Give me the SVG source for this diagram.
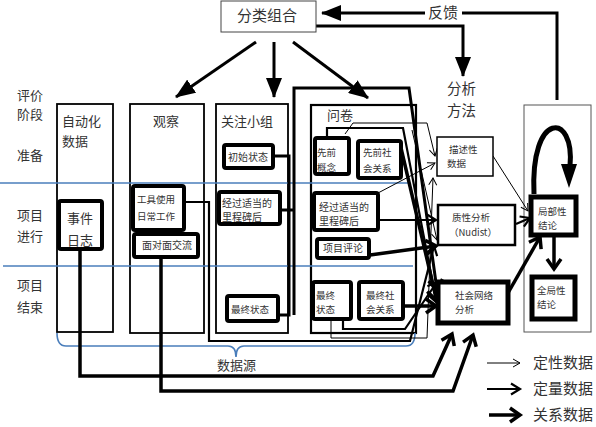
<svg xmlns="http://www.w3.org/2000/svg" width="596" height="427" viewBox="0 0 596 427">
<style>
text{font-family:"Noto Sans CJK SC","Liberation Sans",sans-serif;fill:#333}
.f15{font-size:15px}.f14{font-size:14.5px}.f13{font-size:13px}.f10{font-size:10px}.f9{font-size:9.5px}
.col{fill:#fff;stroke:#000;stroke-width:1.8}
.bx{fill:#fff;stroke:#000;stroke-width:4}
.thin{fill:none;stroke:#000;stroke-width:1}
.med{fill:none;stroke:#000;stroke-width:2.2}
.thk{fill:none;stroke:#000;stroke-width:3.5}
.big{fill:none;stroke:#000;stroke-width:3}
.blue{fill:none;stroke:#4a7ebb;stroke-width:1.6}
</style>
<defs>
<marker id="aThin" markerWidth="10" markerHeight="10" refX="9" refY="5" orient="auto" markerUnits="userSpaceOnUse"><path d="M2,1 L9,5 L2,9" fill="none" stroke="#000" stroke-width="1"/></marker>
<marker id="aMed" markerWidth="14" markerHeight="14" refX="11" refY="7" orient="auto" markerUnits="userSpaceOnUse"><path d="M2,1.5 L11,7 L2,12.5" fill="none" stroke="#000" stroke-width="2.2"/></marker>
<marker id="aThk" markerWidth="18" markerHeight="18" refX="13" refY="9" orient="auto" markerUnits="userSpaceOnUse"><path d="M3,2 L13,9 L3,16" fill="none" stroke="#000" stroke-width="3.5"/></marker>
<marker id="tri" markerWidth="20" markerHeight="16" refX="19" refY="8" orient="auto" markerUnits="userSpaceOnUse"><path d="M0,0 L20,8 L0,16 z" fill="#000"/></marker>
</defs>

<!-- stage labels -->
<g id="stages">
<text class="f13" x="17" y="100">评价</text>
<text class="f13" x="17" y="119">阶段</text>
<text class="f13" x="17" y="160">准备</text>
<text class="f13" x="17" y="220">项目</text>
<text class="f13" x="17" y="241">进行</text>
<text class="f13" x="17" y="290">项目</text>
<text class="f13" x="17" y="312">结束</text>
</g>

<!-- columns -->
<g id="col-auto"><rect class="col" x="57" y="104" width="56" height="228"/>
<text class="f13" x="62" y="126">自动化</text><text class="f13" x="62" y="146">数据</text></g>
<g id="col-obs"><rect class="col" x="130" y="104" width="74" height="229"/>
<text class="f13" x="153" y="126">观察</text></g>
<g id="col-focus"><rect class="col" x="216" y="104" width="72" height="229"/>
<text class="f13" x="221" y="126">关注小组</text></g>
<g id="col-survey"><rect x="311" y="105" width="105" height="228" fill="none" stroke="#000" stroke-width="2.2"/>
<text class="f13" x="327" y="120">问卷</text></g>
<g id="col-right"><rect x="524" y="105" width="67" height="227" fill="#fff" stroke="#555" stroke-width="1"/></g>

<!-- blue separators -->
<g id="separators">
<path class="blue" d="M0,183 H410"/>
<path class="blue" d="M3,266 H413"/>
<path class="blue" d="M57,333 Q57,346 66,346 H228 Q236,346 236,357 Q236,346 244,346 H406 Q415,346 415,333"/>
<text class="f13" x="217" y="370">数据源</text>
</g>

<!-- connectors -->
<g id="connectors">
<path class="big" d="M256,42 L176,97" marker-end="url(#tri)"/>
<path class="big" d="M274,42 V97" marker-end="url(#tri)"/>
<path class="big" d="M293,42 L368,98" marker-end="url(#tri)"/>
<path class="big" d="M316,26 H463 V76" marker-end="url(#tri)"/>
<path class="big" d="M557,100 V13 H462"/>
<path class="big" d="M425,13 H322" marker-end="url(#tri)"/>

<path class="med" d="M186,202 H209 V341 H410 L434,246" marker-end="url(#aMed)"/>
<path class="big" d="M273,156 H289 V315 H278"/>
<path class="big" d="M280,210 H294"/>
<path class="big" d="M294,315 V88 H409 L437,290" marker-end="url(#aThk)"/>
<path class="med" d="M327,138 V128 H403 L436,300" marker-end="url(#aThk)"/>
<path class="thin" d="M345,134 L353,123 H427 L435,156" marker-end="url(#aThin)"/>
<path class="thk" d="M401,148 L437,302" marker-end="url(#aThk)"/>
<path class="thin" d="M378,193 L435,163" marker-end="url(#aThin)"/>
<path class="med" d="M378,220 H436" marker-end="url(#aMed)"/>
<path class="thk" d="M370,255 L436,246" marker-end="url(#aThk)"/>
<path class="thk" d="M403,306 H436" marker-end="url(#aThk)"/>
<path class="thin" d="M331,319 V338 H427 L433,178" marker-end="url(#aThin)"/>
<path class="med" d="M343,319 V329 H405 L437,282" marker-end="url(#aMed)"/>
<path class="thin" d="M412,130 L437,240" marker-end="url(#aThin)"/>
<path class="thk" d="M80,249 V376 H433 L452,334" stroke-width="4.5" marker-end="url(#aThk)"/>
<path class="thk" d="M161,259 V391 H453 L473,335" stroke-width="4.5" marker-end="url(#aThk)"/>

<path class="thin" d="M493,156 L528,211" marker-end="url(#aThin)"/>
<path class="med" d="M516,224 L530,218" marker-end="url(#aMed)"/>
<path class="thk" d="M508,293 L540,237" marker-end="url(#aThk)"/>
<path class="thk" d="M554,237 V269" marker-end="url(#aThk)"/>
<path d="M534,194 C530,110 575,112 570,166" fill="none" stroke="#000" stroke-width="5"/>
<path d="M561,164 L577,164 L569,188 z" fill="#000"/>
</g>

<!-- top node -->
<g id="n-combine"><rect x="221" y="1" width="95" height="31" fill="#fff" stroke="#444" stroke-width="1"/>
<text class="f15" x="237" y="21">分类组合</text></g>
<g id="n-feedback-label"><text class="f15" x="428" y="18">反馈</text></g>
<g id="n-method-label"><text class="f14" x="447" y="94">分析</text><text class="f14" x="447" y="116">方法</text></g>

<!-- boxes -->
<g id="n-eventlog"><rect class="bx" x="59" y="201" width="43" height="48" rx="2" stroke-width="5"/>
<text class="f13" x="67" y="223">事件</text><text class="f13" x="67" y="245">日志</text></g>
<g id="n-tool"><rect class="bx" x="133" y="186" width="51" height="44" rx="2"/>
<text class="f9" x="137" y="203">工具使用</text><text class="f9" x="137" y="220">日常工作</text></g>
<g id="n-f2f"><rect class="bx" x="134" y="234" width="64" height="23" rx="2"/>
<text class="f10" x="142" y="249">面对面交流</text></g>
<g id="n-fg-init"><rect class="bx" x="224" y="145" width="49" height="23" rx="2"/>
<text class="f10" x="228" y="161">初始状态</text></g>
<g id="n-fg-mid"><rect class="bx" x="219" y="192" width="61" height="32" rx="2"/>
<text class="f10" x="222" y="207">经过适当的</text><text class="f10" x="222" y="221">里程碑后</text></g>
<g id="n-fg-final"><rect class="bx" x="227" y="296" width="51" height="25" rx="2"/>
<text class="f9" x="231" y="313">最终状态</text></g>
<g id="n-q-prior"><rect class="bx" x="315" y="138" width="34" height="36" rx="2"/>
<text class="f9" x="317" y="156">先前</text><text class="f9" x="317" y="171">概念</text></g>
<g id="n-q-priorrel"><rect class="bx" x="358" y="141" width="43" height="37" rx="2"/>
<text class="f9" x="363" y="156">先前社</text><text class="f9" x="363" y="172">会关系</text></g>
<g id="n-q-mid"><rect class="bx" x="314" y="193" width="64" height="37" rx="2" stroke-width="4.5"/>
<text class="f10" x="319" y="211">经过适当的</text><text class="f10" x="319" y="225">里程碑后</text></g>
<g id="n-q-review"><rect class="bx" x="317" y="239" width="52" height="19" rx="2"/>
<text class="f10" x="323" y="252">项目评论</text></g>
<g id="n-q-final"><rect class="bx" x="313" y="282" width="38" height="37" rx="2" stroke-width="3.5"/>
<text class="f9" x="316" y="299">最终</text><text class="f9" x="316" y="313">状态</text></g>
<g id="n-q-finalrel"><rect class="bx" x="359" y="282" width="44" height="37" rx="2"/>
<text class="f9" x="366" y="299">最终社</text><text class="f9" x="366" y="313">会关系</text></g>

<g id="n-desc"><rect x="437" y="137" width="56" height="39" fill="#fff" stroke="#000" stroke-width="1.5"/>
<text class="f9" x="449" y="153">描述性</text><text class="f9" x="447" y="167">数据</text></g>
<g id="n-qual"><rect x="438" y="205" width="77" height="40" fill="#fff" stroke="#000" stroke-width="2.5"/>
<text class="f9" x="452" y="221">质性分析</text><text class="f9" x="449" y="236">（Nudist）</text></g>
<g id="n-sna"><rect x="438" y="282" width="70" height="41" fill="#fff" stroke="#000" stroke-width="5"/>
<text class="f9" x="455" y="299">社会网络</text><text class="f9" x="455" y="313">分析</text></g>
<g id="n-local"><rect x="531" y="197" width="45" height="38" fill="#fff" stroke="#000" stroke-width="5"/>
<text class="f9" x="538" y="215">局部性</text><text class="f9" x="538" y="229">结论</text></g>
<g id="n-global"><rect x="532" y="277" width="43" height="42" fill="#fff" stroke="#000" stroke-width="5"/>
<text class="f9" x="537" y="294">全局性</text><text class="f9" x="537" y="308">结论</text></g>

<!-- legend -->
<g id="legend">
<path class="thin" d="M487,363 H520" marker-end="url(#aThin)"/>
<path class="med" d="M487,389 H520" marker-end="url(#aMed)"/>
<path class="thk" d="M489,415 H520" stroke-width="4" marker-end="url(#aThk)"/>
<text class="f15" x="533" y="368">定性数据</text>
<text class="f15" x="533" y="394">定量数据</text>
<text class="f15" x="533" y="420">关系数据</text>
</g>
</svg>
